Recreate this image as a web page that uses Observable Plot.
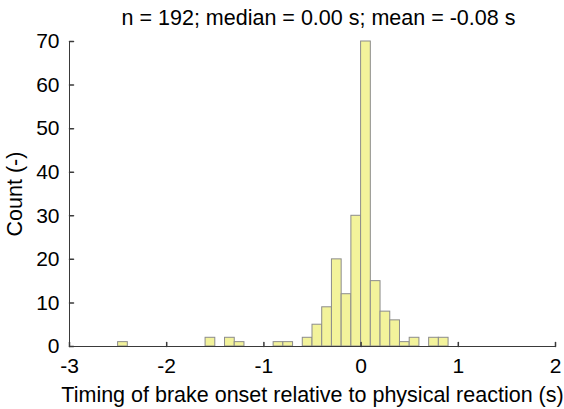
<!DOCTYPE html>
<html>
<head>
<meta charset="utf-8">
<script src="https://cdn.jsdelivr.net/npm/d3@7"></script>
<script src="https://cdn.jsdelivr.net/npm/@observablehq/plot@0.6"></script>
<style>
  html, body { margin: 0; padding: 0; background: #fff; }
</style>
</head>
<body>
<div id="chart"></div>
<script>
// Histogram bins (left edge, seconds) with nonzero counts; bin width 0.1 s
const binStart = [-2.5, -1.6, -1.4, -1.3, -0.9, -0.8, -0.6, -0.5, -0.4, -0.3, -0.2, -0.1, 0.0, 0.1, 0.2, 0.3, 0.4, 0.5, 0.7, 0.8];
const counts   = [1, 2, 2, 1, 1, 1, 2, 5, 9, 20, 12, 30, 70, 15, 8, 6, 1, 2, 2, 2];
const binWidth = 0.1;
const xTicks = [-3, -2, -1, 0, 1, 2];
const yTicks = [0, 10, 20, 30, 40, 50, 60, 70];
const titleText = "n = 192; median = 0.00 s; mean = -0.08 s";
const xLabel = "Timing of brake onset relative to physical reaction (s)";
const yLabel = "Count (-)";

const bins = binStart.map((s, i) => ({x1: s, x2: +(s + binWidth).toFixed(2), count: counts[i]}));

const tickShape = {draw(context, l) { context.moveTo(0, 0); context.lineTo(0, -l); }};
const axisColor = "#3a3a3a";
const fs = 21;

const chart = Plot.plot({
  width: 564,
  height: 409,
  marginLeft: 69,
  marginRight: 9,
  marginTop: 41,
  marginBottom: 63,
  x: {domain: [-3, 2]},
  y: {domain: [0, 70]},
  style: {fontFamily: "'Liberation Sans', Arial, sans-serif", fontSize: fs + "px", color: "#000", background: "#fff"},
  marks: [
    Plot.rectY(bins, {x1: "x1", x2: "x2", y: "count", fill: "#f3f39b", stroke: "#8c8c8c", strokeWidth: 1}),
    Plot.ruleY([0], {stroke: axisColor, strokeWidth: 1}),
    Plot.ruleX([-3], {stroke: axisColor, strokeWidth: 1}),
    Plot.vectorX(xTicks, {x: d => d, frameAnchor: "bottom", length: 4, rotate: 0, anchor: "start", shape: tickShape, stroke: axisColor}),
    Plot.vectorY(yTicks, {y: d => d, frameAnchor: "left", length: 4, rotate: 90, anchor: "start", shape: tickShape, stroke: axisColor}),
    Plot.axisX({ticks: xTicks, tickSize: 0, tickPadding: 12, tickFormat: d => String(d), label: null, fontSize: fs}),
    Plot.axisY({ticks: yTicks, tickSize: 0, tickPadding: 10, tickFormat: d => String(d), label: null, fontSize: fs}),
    Plot.text([titleText], {frameAnchor: "top", lineAnchor: "middle", textAnchor: "middle", dy: -23, dx: 6, fontSize: 21.5, fill: "#000"}),
    Plot.text([xLabel], {frameAnchor: "bottom", lineAnchor: "middle", textAnchor: "middle", dy: 49, fontSize: 21.5, fill: "#000"}),
    Plot.text([yLabel], {frameAnchor: "left", lineAnchor: "middle", textAnchor: "middle", dx: -54, rotate: -90, fontSize: 21.5, fill: "#000"})
  ]
});
document.getElementById("chart").appendChild(chart);
</script>
</body>
</html>
